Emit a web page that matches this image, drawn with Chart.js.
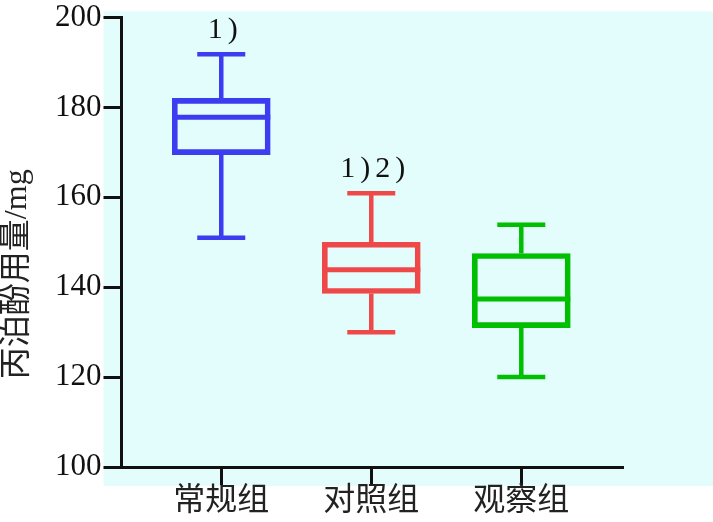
<!DOCTYPE html>
<html>
<head>
<meta charset="utf-8">
<script src="https://cdn.jsdelivr.net/npm/chart.js@4/dist/chart.umd.min.js"></script>
<style>
html, body { margin: 0; padding: 0; background: #fff; }
#wrap { width: 713px; height: 522px; }
</style>
</head>
<body>
<div id="wrap"><canvas id="BoxChart"></canvas></div>
<script>
var Groups = ['常规组', '对照组', '观察组'];
var GroupPos = [1, 2, 3];
var Mins = [151, 130, 120];
var Q1s = [169.5, 138.6, 131];
var Medians = [177.8, 143.9, 137.4];
var Q3s = [182, 150, 147.5];
var Maxs = [191.8, 160.9, 153.9];
var Marks = ['1)', '1)2)', ''];
var YTicks = [100, 120, 140, 160, 180, 200];

var Colors = ['#3c3cf0', '#ef4848', '#00bf00'];
var serif = "'Liberation Serif', 'Noto Sans CJK SC', serif";

// background panel behind the axes
var panelBg = {
	id: 'panelBg',
	beforeDraw: function(chart){
		var a = chart.chartArea, ctx = chart.ctx;
		ctx.save();
		ctx.fillStyle = '#e3fdfd';
		ctx.fillRect(a.left - 18, a.top - 6, chart.width - (a.left - 18), a.bottom + 19 - (a.top - 6));
		ctx.restore();
	}
};

// whiskers, medians and significance marks
var boxExtras = {
	id: 'boxExtras',
	afterDatasetsDraw: function(chart){
		var ctx = chart.ctx, y = chart.scales.y;
		var meta = chart.getDatasetMeta(0);
		ctx.save();
		meta.data.forEach(function(bar, i){
			var cx = bar.x, half = bar.width / 2;
			var yMin = y.getPixelForValue(Mins[i]), yMax = y.getPixelForValue(Maxs[i]);
			var yQ1 = y.getPixelForValue(Q1s[i]), yQ3 = y.getPixelForValue(Q3s[i]);
			var yMed = y.getPixelForValue(Medians[i]);
			ctx.strokeStyle = Colors[i];
			ctx.lineWidth = 5;
			ctx.beginPath();
			ctx.moveTo(cx - half, yMed); ctx.lineTo(cx + half, yMed);
			ctx.stroke();
			ctx.lineWidth = 4.5;
			ctx.beginPath();
			ctx.moveTo(cx, yQ3); ctx.lineTo(cx, yMax);
			ctx.moveTo(cx, yQ1); ctx.lineTo(cx, yMin);
			ctx.moveTo(cx - 24, yMax); ctx.lineTo(cx + 24, yMax);
			ctx.moveTo(cx - 24, yMin); ctx.lineTo(cx + 24, yMin);
			ctx.stroke();
			if(Marks[i]){
				ctx.fillStyle = '#111';
				ctx.font = '30px ' + serif;
				ctx.letterSpacing = '5px';
				ctx.textAlign = 'center';
				ctx.textBaseline = 'alphabetic';
				ctx.fillText(Marks[i], cx + 4, yMax - 16);
			}
		});
		ctx.restore();
	}
};

new Chart(document.getElementById('BoxChart'), {
	type: 'bar',
	data: {
		datasets: [{
			data: GroupPos.map(function(p, i){ return {x: p, y: [Q1s[i], Q3s[i]]}; }),
			backgroundColor: 'rgba(0,0,0,0)',
			borderColor: Colors,
			borderWidth: 5,
			borderSkipped: false,
			barThickness: 98
		}]
	},
	options: {
		animation: false,
		responsive: true,
		maintainAspectRatio: false,
		layout: { padding: { left: 0, right: 90, top: 0, bottom: 3 } },
		plugins: { legend: { display: false }, tooltip: { enabled: false } },
		scales: {
			x: {
				type: 'linear',
				offset: false,
				min: 0.335,
				max: 3.678,
				afterBuildTicks: function(axis){ axis.ticks = GroupPos.map(function(v){ return {value: v}; }); },
				ticks: {
					color: '#222',
					padding: 1,
					font: { family: serif, size: 32, lineHeight: 1 },
					callback: function(v){ return Groups[GroupPos.indexOf(v)]; }
				},
				grid: { offset: false, drawOnChartArea: false, tickLength: 18, tickWidth: 3, tickColor: '#111' },
				border: { width: 3, color: '#111' }
			},
			y: {
				min: 100,
				max: 200,
				afterBuildTicks: function(axis){ axis.ticks = YTicks.map(function(v){ return {value: v}; }); },
				ticks: {
					color: '#111',
					padding: 2,
					font: { family: serif, size: 31, lineHeight: 1 }
				},
				grid: { drawOnChartArea: false, tickLength: 18, tickWidth: 3, tickColor: '#111' },
				border: { width: 3, color: '#111' },
				title: {
					display: true,
					text: '丙泊酚用量/mg\u2003\u2003',
					color: '#222',
					font: { family: serif, size: 32, lineHeight: 1 },
					padding: { top: 2, bottom: 19 }
				}
			}
		}
	},
	plugins: [panelBg, boxExtras]
});
</script>
</body>
</html>
